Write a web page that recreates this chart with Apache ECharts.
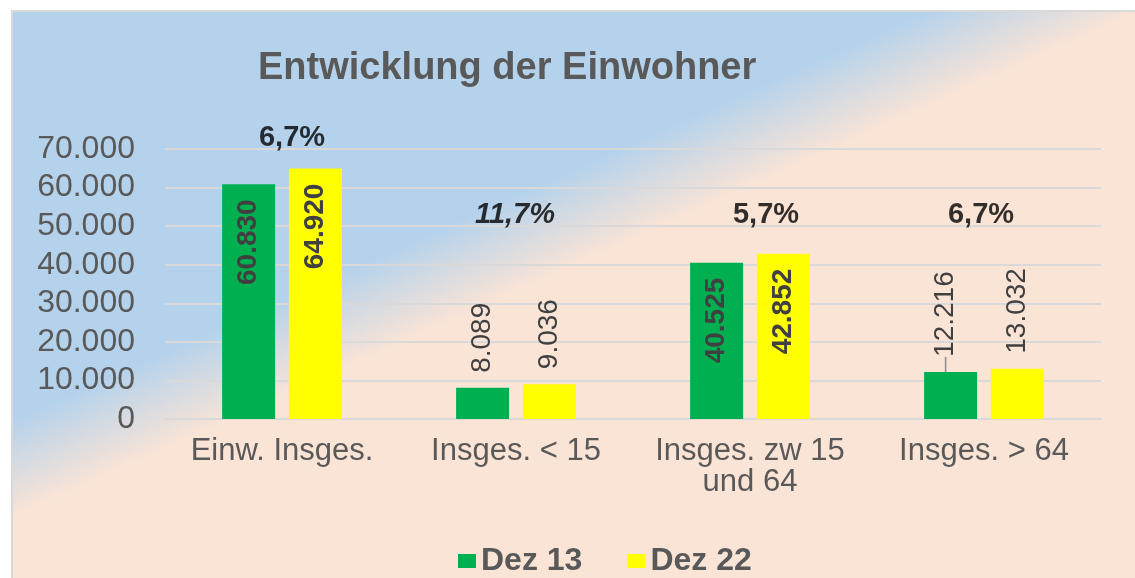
<!DOCTYPE html>
<html>
<head>
<meta charset="utf-8">
<title>Entwicklung der Einwohner</title>
<script src="https://cdn.jsdelivr.net/npm/echarts@6/dist/echarts.min.js"></script>
<style>
	html, body { margin: 0; padding: 0; background: #fff; }
	#chart { width: 1135px; height: 578px; }
</style>
</head>
<body>
<div id="chart"></div>
<script>
// Daten
var categories = ['Einw. Insges.', 'Insges. < 15', 'Insges. zw 15\nund 64', 'Insges. > 64'];
var dez13 = [60830, 8089, 40525, 12216];
var dez22 = [64920, 9036, 42852, 13032];
var changeLabels = ['6,7%', '11,7%', '5,7%', '6,7%'];
var seriesNames = ['Dez 13', 'Dez 22'];

var FONT = "'Liberation Sans', Arial, sans-serif";

// 1.234 statt 1,234
function fmt(v) {
	return String(v).replace(/\B(?=(\d{3})+(?!\d))/g, '.');
}

// große Balken: Wert innen, kleine: Wert oberhalb
function barData(list) {
	return list.map(function(v) {
		var inside = v > 30000;
		return {
			value : v,
			label : {
				position : inside ? 'insideTop' : 'top',
				align : inside ? 'right' : 'left',
				fontWeight : inside ? 'bold' : 'normal',
				distance : 15
			}
		};
	});
}

// Prozent-Beschriftung über den Gruppen (Ankerwert + Versatz)
var changeAnchor = [72850, 52950, 52950, 52950];
var changeOffset = [10, -1, 16, -3];

var chart = echarts.init(document.getElementById('chart'));

var greenData = barData(dez13);
// 12.216 wurde in der Vorlage nach oben verschoben, mit Führungslinie
greenData[3].labelLine = { show : true, lineStyle : { color : '#8c8c8c', width : 1.5 } };

var option = {
	animation : false,
	textStyle : { fontFamily : FONT },
	graphic : [ {
		type : 'rect',
		z : -100,
		silent : true,
		shape : { x : 12, y : 11, width : 1135, height : 580 },
		style : {
			fill : new echarts.graphic.LinearGradient(0, 0, 407, 908, [
				{ offset : 0, color : '#b4d2ec' },
				{ offset : 0.39, color : '#b4d2ec' },
				{ offset : 0.48, color : '#fae4d6' },
				{ offset : 1, color : '#fae4d6' }
			], true),
			stroke : '#d9d9d9',
			lineWidth : 2
		}
	} ],
	title : {
		text : 'Entwicklung der Einwohner',
		left : 258,
		top : 50,
		padding : 0,
		textStyle : { fontFamily : FONT, fontSize : 38, fontWeight : 'bold', color : '#595959' }
	},
	legend : {
		data : seriesNames,
		left : 453,
		top : 540,
		itemWidth : 18,
		itemHeight : 14,
		itemGap : 45,
		icon : 'rect',
		textStyle : { fontFamily : FONT, fontSize : 32, fontWeight : 'bold', color : '#595959' }
	},
	grid : { left : 165, right : 34, top : 149, bottom : 159 },
	xAxis : {
		type : 'category',
		data : categories,
		axisTick : { show : false },
		axisLine : { lineStyle : { color : '#d9d9d9', width : 2 } },
		axisLabel : {
			interval : 0,
			margin : 17,
			fontFamily : FONT,
			fontSize : 31,
			lineHeight : 31,
			color : '#595959'
		}
	},
	yAxis : {
		type : 'value',
		min : 0,
		max : 70000,
		interval : 10000,
		axisLine : { show : false },
		axisTick : { show : false },
		splitLine : { lineStyle : { color : '#d9d9d9', width : 2 } },
		axisLabel : {
			margin : 30,
			fontFamily : FONT,
			fontSize : 32,
			color : '#595959',
			formatter : fmt
		}
	},
	series : [ {
		name : seriesNames[0],
		type : 'bar',
		barWidth : 53,
		barGap : '26%',
		itemStyle : { color : '#00b050' },
		label : {
			show : true,
			rotate : 90,
			verticalAlign : 'middle',
			fontFamily : FONT,
			fontSize : 28,
			color : '#404040',
			formatter : function(p) { return fmt(p.value); }
		},
		labelLine : { show : false },
		labelLayout : function(p) {
			if (p.dataIndex === 3) {
				return { dy : -5 };
			}
		},
		data : greenData
	}, {
		name : seriesNames[1],
		type : 'bar',
		barWidth : 53,
		itemStyle : { color : '#ffff00' },
		label : {
			show : true,
			rotate : 90,
			verticalAlign : 'middle',
			fontFamily : FONT,
			fontSize : 28,
			color : '#404040',
			formatter : function(p) { return fmt(p.value); }
		},
		data : barData(dez22)
	}, {
		name : 'Veränderung',
		type : 'scatter',
		symbolSize : 0,
		clip : false,
		silent : true,
		z : 5,
		data : changeLabels.map(function(t, i) {
			return {
				value : [i, changeAnchor[i]],
				label : { offset : [changeOffset[i], 0], fontStyle : i === 1 ? 'italic' : 'normal' }
			};
		}),
		label : {
			show : true,
			position : 'inside',
			fontFamily : FONT,
			fontSize : 29,
			fontWeight : 'bold',
			color : '#000',
			formatter : function(p) { return changeLabels[p.dataIndex]; }
		}
	} ]
};

chart.setOption(option);
</script>
</body>
</html>
